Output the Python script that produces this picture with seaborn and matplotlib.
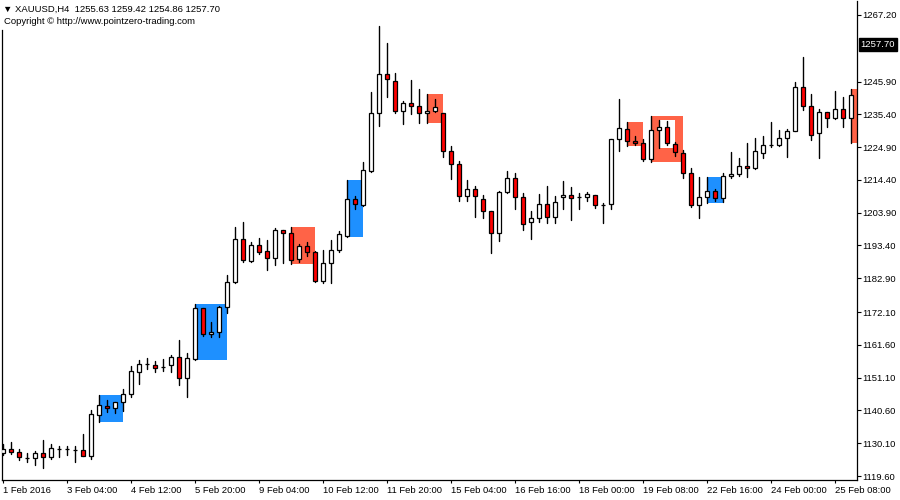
import numpy as np
import pandas as pd
import matplotlib
matplotlib.use("Agg")
import matplotlib.pyplot as plt
import seaborn as sns

# ---------------- data (XAUUSD H4) ----------------
opens = [1126.87, 1128.15, 1127.19, 1125.46, 1125.46, 1126.87, 1125.78, 1128.34, 1128.15, 1128.02,
         1127.83, 1126.10, 1139.23, 1142.01, 1141.28, 1143.20, 1145.76, 1152.99, 1155.56, 1155.04,
         1154.59, 1155.04, 1157.60, 1151.07, 1157.16, 1173.29, 1164.97, 1165.61, 1173.61, 1181.62,
         1195.38, 1188.53, 1193.46, 1191.54, 1189.30, 1198.27, 1197.31, 1189.17, 1193.14, 1191.22,
         1182.13, 1187.70, 1191.86, 1196.54, 1208.19, 1206.27, 1217.35, 1235.72, 1248.21, 1245.97,
         1236.37, 1238.93, 1237.97, 1235.72, 1236.37, 1235.72, 1223.56, 1219.40, 1209.15, 1211.39,
         1208.19, 1204.35, 1197.31, 1210.43, 1214.91, 1208.83, 1200.83, 1202.11, 1206.59, 1202.43,
         1208.83, 1209.47, 1208.83, 1208.83, 1209.47, 1206.37, 1206.59, 1227.40, 1230.60, 1226.76,
         1226.12, 1221.00, 1230.28, 1231.24, 1225.80, 1222.92, 1216.52, 1206.27, 1208.83, 1210.75,
         1208.51, 1215.55, 1216.20, 1218.76, 1218.12, 1222.92, 1225.48, 1225.48, 1227.72, 1229.96,
         1244.05, 1237.97, 1229.32, 1236.05, 1234.13, 1237.01, 1234.13]
highs = [1129.85, 1130.39, 1128.24, 1126.87, 1127.51, 1131.13, 1129.85, 1129.21, 1129.21, 1129.21,
         1133.05, 1140.73, 1145.53, 1143.93, 1143.30, 1147.45, 1154.72, 1156.74, 1157.28, 1156.42,
         1157.06, 1158.34, 1163.14, 1158.98, 1174.57, 1173.40, 1168.81, 1174.03, 1183.95, 1199.32,
         1200.92, 1194.42, 1195.80, 1195.06, 1198.91, 1198.40, 1199.32, 1193.78, 1194.42, 1191.54,
         1191.86, 1195.06, 1197.95, 1214.37, 1209.25, 1220.04, 1242.45, 1263.68, 1258.23, 1248.53,
         1239.66, 1246.39, 1243.51, 1241.90, 1240.30, 1235.80, 1225.26, 1220.36, 1214.28, 1212.45,
         1209.47, 1204.40, 1210.75, 1217.25, 1216.52, 1210.11, 1204.35, 1209.89, 1212.45, 1209.25,
         1214.05, 1212.13, 1210.11, 1210.53, 1209.60, 1206.91, 1227.45, 1240.21, 1232.84, 1228.36,
         1227.40, 1234.86, 1233.48, 1233.26, 1226.44, 1223.88, 1218.12, 1215.23, 1215.23, 1211.39,
         1216.52, 1223.24, 1221.32, 1226.12, 1227.72, 1228.36, 1232.84, 1230.28, 1230.60, 1245.65,
         1253.75, 1241.81, 1237.01, 1236.10, 1242.77, 1240.85, 1243.41]
lows = [1126.32, 1126.74, 1124.82, 1124.18, 1123.22, 1122.26, 1125.04, 1125.78, 1126.42, 1124.18,
        1125.91, 1125.04, 1136.99, 1139.99, 1139.67, 1140.31, 1144.80, 1149.15, 1153.95, 1152.99,
        1153.31, 1152.99, 1148.83, 1144.99, 1156.90, 1164.52, 1164.20, 1164.20, 1171.69, 1181.50,
        1188.21, 1188.21, 1190.77, 1185.65, 1187.25, 1187.89, 1187.48, 1188.21, 1190.13, 1181.80,
        1181.49, 1181.49, 1191.22, 1196.02, 1205.18, 1206.20, 1217.03, 1231.76, 1241.04, 1235.92,
        1232.40, 1235.60, 1232.72, 1232.70, 1236.05, 1221.83, 1214.59, 1207.74, 1207.55, 1202.43,
        1202.11, 1190.90, 1194.74, 1210.11, 1205.18, 1198.27, 1195.64, 1201.02, 1200.51, 1200.51,
        1204.99, 1201.47, 1205.18, 1207.55, 1205.31, 1200.70, 1204.99, 1223.75, 1225.16, 1225.48,
        1220.36, 1220.13, 1224.62, 1225.67, 1221.96, 1214.91, 1205.63, 1202.11, 1206.91, 1207.55,
        1207.23, 1214.91, 1215.55, 1215.23, 1217.80, 1221.32, 1224.84, 1225.16, 1221.83, 1229.90,
        1236.69, 1227.08, 1221.32, 1231.24, 1233.81, 1231.44, 1226.12]
closes = [1128.15, 1127.19, 1125.59, 1125.46, 1126.87, 1125.78, 1128.47, 1128.34, 1128.15, 1128.02,
          1126.10, 1139.35, 1142.24, 1141.28, 1143.20, 1145.76, 1153.22, 1155.36, 1155.56, 1154.27,
          1154.59, 1157.60, 1151.07, 1157.28, 1173.29, 1164.97, 1165.61, 1173.61, 1181.62, 1195.38,
          1188.85, 1193.46, 1191.41, 1189.30, 1198.27, 1197.31, 1188.85, 1193.14, 1191.22, 1181.94,
          1187.70, 1191.86, 1196.99, 1208.19, 1206.59, 1217.48, 1235.72, 1248.21, 1246.61, 1236.37,
          1238.93, 1237.97, 1235.72, 1236.37, 1237.65, 1223.56, 1219.40, 1209.15, 1211.39, 1209.15,
          1204.35, 1197.31, 1210.43, 1214.91, 1208.83, 1200.19, 1202.11, 1206.59, 1202.43, 1207.23,
          1209.47, 1208.51, 1208.83, 1209.79, 1206.27, 1206.37, 1227.40, 1230.92, 1226.76, 1226.12,
          1221.00, 1230.28, 1231.24, 1226.12, 1223.24, 1216.52, 1206.27, 1208.83, 1210.75, 1208.51,
          1215.55, 1216.20, 1218.76, 1218.12, 1223.56, 1225.48, 1225.48, 1227.72, 1229.96, 1244.05,
          1237.97, 1228.68, 1236.05, 1234.13, 1237.01, 1234.13, 1241.49]

# inside-bar highlight boxes: mother bar index -> end bar index
box_start = [12, 24, 36, 43, 53, 78, 81, 82, 88, 106]
box_end = [15, 28, 39, 45, 55, 80, 85, 84, 90, 108]
box_color = ["#1E90FF", "#1E90FF", "#FF6347", "#1E90FF", "#FF6347",
             "#FF6347", "#FF6347", "#FFFFFF", "#1E90FF", "#FF6347"]

xtick_bars = [0, 8, 16, 24, 32, 40, 48, 56, 64, 72, 80, 88, 96, 104]
xtick_labels = ["1 Feb 2016", "3 Feb 04:00", "4 Feb 12:00", "5 Feb 20:00", "9 Feb 04:00",
                "10 Feb 12:00", "11 Feb 20:00", "15 Feb 04:00", "16 Feb 16:00", "18 Feb 00:00",
                "19 Feb 08:00", "22 Feb 16:00", "24 Feb 00:00", "25 Feb 08:00"]
ytick_values = [1267.20, 1245.90, 1235.40, 1224.90, 1214.40, 1203.90, 1193.40, 1182.90,
                1172.10, 1161.60, 1151.10, 1140.60, 1130.10, 1119.60]
current_price = 1257.70
title = "\u25BC XAUUSD,H4  1255.63 1259.42 1254.86 1257.70"
subtitle = "Copyright \u00A9 http://www.pointzero-trading.com"

# ---------------- build frames ----------------
df = pd.DataFrame({"bar": np.arange(len(opens)), "open": opens, "high": highs,
                   "low": lows, "close": closes})
df["bull"] = df["close"] >= df["open"]
wick = pd.concat([df[["bar", "high"]].rename(columns={"high": "price"}),
                  df[["bar", "low"]].rename(columns={"low": "price"})]).sort_values("bar")

sns.set_theme(style="white")
plt.rcParams["font.family"] = ["Liberation Sans", "DejaVu Sans"]
FS = 6.8

fig = plt.figure(figsize=(9, 5), dpi=100)
ax = fig.add_axes([2 / 900, 20 / 500, 855 / 900, 479 / 500])

# highlight boxes
for s, e, c in zip(box_start, box_end, box_color):
    ax.fill_between([s, e], df.loc[s, "low"], df.loc[s, "high"], color=c,
                    linewidth=0, zorder=1)

# wicks
sns.lineplot(data=wick, x="bar", y="price", units="bar", estimator=None,
             color="black", linewidth=1.0, legend=False, ax=ax, zorder=2)

# bodies
bottom = np.minimum(df["open"], df["close"])
height = (df["close"] - df["open"]).abs()
ax.bar(df["bar"], height, bottom=bottom, width=0.5,
       color=np.where(df["bull"], "white", "#FF0000"),
       edgecolor="black", linewidth=0.9, zorder=3)

ax.set_xlim(-0.125, 106.75)
ax.set_ylim(1118.32, 1271.68)
ax.set_xlabel("")
ax.set_ylabel("")

ax.yaxis.tick_right()
ax.set_yticks(ytick_values)
ax.set_yticklabels([f"{v:.2f}" for v in ytick_values])
ax.set_xticks(xtick_bars)
ax.set_xticklabels(xtick_labels, ha="left")
ax.tick_params(axis="y", which="both", right=True, left=False, direction="out",
               length=2.8, width=0.8, pad=1.0, labelsize=FS, colors="black")
ax.tick_params(axis="x", which="both", bottom=True, top=False, direction="out",
               length=2.5, width=0.8, pad=2, labelsize=FS, colors="black")

for side in ["left", "right", "bottom"]:
    ax.spines[side].set_visible(True)
    ax.spines[side].set_color("black")
    ax.spines[side].set_linewidth(0.9)
ax.spines["top"].set_visible(False)
ax.spines["left"].set_bounds(1118.32, 1262.4)

ax.annotate(f"{current_price:.2f}", xy=(1, current_price),
            xycoords=("axes fraction", "data"), xytext=(2.6, 0),
            textcoords="offset points", va="center", ha="left", color="white",
            fontsize=FS, bbox=dict(boxstyle="square,pad=0.18", fc="black", ec="black"),
            annotation_clip=False)

fig.text(3 / 900, 1 - 9 / 500, title, fontsize=FS, va="center", ha="left", color="black")
fig.text(4 / 900, 1 - 22 / 500, subtitle, fontsize=FS, va="center", ha="left", color="black")

fig.savefig("out.png", dpi=100, facecolor="white")
